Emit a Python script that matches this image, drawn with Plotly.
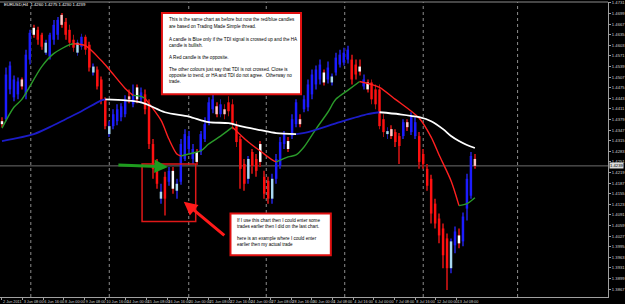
import plotly.graph_objects as go

# ---------------- data ----------------
symbol_header = "EURUSD,H4  1.4260 1.4275 1.4230 1.4239"

candle_idx = list(range(120))
candle_color = [
    "W", "B", "B", "B", "B", "P", "B", "B", "W", "R",
    "R", "C", "B", "B", "B", "P", "R", "R", "R", "C",
    "B", "R", "R", "C", "R", "R", "R", "C", "B", "B",
    "B", "B", "P", "B", "W", "B", "R", "R", "R", "R",
    "C", "R", "B", "W", "C", "B", "B", "B", "B", "W",
    "B", "B", "B", "B", "P", "B", "P", "R", "R", "R",
    "R", "R", "C", "R", "R", "W", "R", "R", "C", "B",
    "B", "B", "W", "B", "B", "P", "B", "B", "B", "B",
    "B", "W", "B", "C", "B", "B", "B", "B", "R", "R",
    "W", "B", "W", "R", "R", "R", "R", "C", "P", "R",
    "R", "B", "P", "B", "B", "R", "R", "R", "R", "R",
    "R", "R", "R", "C", "B", "W", "B", "B", "B", "P",
]
open_ = [
    1.4365, 1.4380, 1.4470, 1.4446, 1.4455, 1.4500, 1.4455, 1.4560, 1.4635, 1.4650,
    1.4635, 1.4611, 1.4569, 1.4620, 1.4635, 1.4695, 1.4674, 1.4650, 1.4620, 1.4611,
    1.4599, 1.4629, 1.4605, 1.4539, 1.4530, 1.4500, 1.4440, 1.4359, 1.4359, 1.4374,
    1.4386, 1.4395, 1.4449, 1.4425, 1.4476, 1.4440, 1.4455, 1.4425, 1.4305, 1.4245,
    1.4161, 1.4206, 1.4191, 1.4224, 1.4185, 1.4191, 1.4260, 1.4290, 1.4260, 1.4281,
    1.4281, 1.4320, 1.4371, 1.4410, 1.4419, 1.4395, 1.4410, 1.4431, 1.4425, 1.4359,
    1.4320, 1.4245, 1.4260, 1.4281, 1.4260, 1.4305, 1.4206, 1.4194, 1.4200, 1.4200,
    1.4239, 1.4305, 1.4314, 1.4329, 1.4365, 1.4380, 1.4410, 1.4416, 1.4455, 1.4485,
    1.4500, 1.4521, 1.4500, 1.4509, 1.4521, 1.4545, 1.4551, 1.4560, 1.4560, 1.4545,
    1.4539, 1.4479, 1.4491, 1.4491, 1.4470, 1.4470, 1.4380, 1.4344, 1.4350, 1.4341,
    1.4329, 1.4329, 1.4371, 1.4341, 1.4329, 1.4329, 1.4275, 1.4230, 1.4200, 1.4125,
    1.4080, 1.4050, 1.4020, 1.3930, 1.3999, 1.4005, 1.4011, 1.4110, 1.4149, 1.4260,
]
high = [
    1.4386, 1.4536, 1.4554, 1.4512, 1.4506, 1.4506, 1.4590, 1.4650, 1.4665, 1.4659,
    1.4641, 1.4620, 1.4641, 1.4680, 1.4689, 1.4701, 1.4686, 1.4665, 1.4635, 1.4620,
    1.4638, 1.4635, 1.4614, 1.4548, 1.4539, 1.4509, 1.4446, 1.4374, 1.4410, 1.4425,
    1.4428, 1.4452, 1.4470, 1.4485, 1.4485, 1.4476, 1.4470, 1.4440, 1.4320, 1.4260,
    1.4185, 1.4221, 1.4236, 1.4236, 1.4200, 1.4320, 1.4350, 1.4344, 1.4305, 1.4290,
    1.4344, 1.4386, 1.4446, 1.4455, 1.4431, 1.4440, 1.4425, 1.4449, 1.4440, 1.4374,
    1.4329, 1.4260, 1.4269, 1.4290, 1.4275, 1.4314, 1.4224, 1.4206, 1.4215, 1.4275,
    1.4326, 1.4344, 1.4326, 1.4395, 1.4440, 1.4395, 1.4452, 1.4500, 1.4530, 1.4542,
    1.4560, 1.4530, 1.4554, 1.4518, 1.4581, 1.4590, 1.4596, 1.4602, 1.4575, 1.4560,
    1.4560, 1.4515, 1.4500, 1.4500, 1.4485, 1.4485, 1.4395, 1.4356, 1.4362, 1.4350,
    1.4338, 1.4380, 1.4380, 1.4401, 1.4386, 1.4341, 1.4290, 1.4245, 1.4212, 1.4140,
    1.4095, 1.4065, 1.4035, 1.4020, 1.4056, 1.4050, 1.4098, 1.4215, 1.4281, 1.4275,
]
low = [
    1.4356, 1.4374, 1.4455, 1.4434, 1.4440, 1.4470, 1.4440, 1.4545, 1.4626, 1.4605,
    1.4590, 1.4575, 1.4560, 1.4605, 1.4620, 1.4656, 1.4620, 1.4599, 1.4584, 1.4572,
    1.4590, 1.4575, 1.4524, 1.4512, 1.4470, 1.4425, 1.4350, 1.4326, 1.4350, 1.4362,
    1.4374, 1.4386, 1.4428, 1.4416, 1.4428, 1.4428, 1.4395, 1.4290, 1.4200, 1.4170,
    1.4125, 1.4089, 1.4179, 1.4155, 1.4140, 1.4182, 1.4254, 1.4275, 1.4245, 1.4242,
    1.4272, 1.4311, 1.4362, 1.4398, 1.4386, 1.4386, 1.4380, 1.4389, 1.4350, 1.4296,
    1.4170, 1.4164, 1.4185, 1.4215, 1.4206, 1.4236, 1.4140, 1.4125, 1.4125, 1.4185,
    1.4230, 1.4290, 1.4281, 1.4320, 1.4356, 1.4356, 1.4401, 1.4404, 1.4440, 1.4470,
    1.4485, 1.4482, 1.4488, 1.4482, 1.4512, 1.4536, 1.4542, 1.4548, 1.4485, 1.4500,
    1.4512, 1.4470, 1.4461, 1.4425, 1.4410, 1.4350, 1.4326, 1.4320, 1.4320, 1.4296,
    1.4245, 1.4320, 1.4344, 1.4332, 1.4320, 1.4230, 1.4230, 1.4164, 1.4065, 1.4050,
    1.4005, 1.3930, 1.3864, 1.3915, 1.3975, 1.3990, 1.3996, 1.4074, 1.4140, 1.4230,
]
close = [
    1.4374, 1.4515, 1.4542, 1.4500, 1.4494, 1.4479, 1.4575, 1.4641, 1.4656, 1.4620,
    1.4599, 1.4581, 1.4635, 1.4665, 1.4680, 1.4665, 1.4635, 1.4611, 1.4596, 1.4581,
    1.4629, 1.4590, 1.4536, 1.4521, 1.4479, 1.4440, 1.4359, 1.4335, 1.4395, 1.4410,
    1.4419, 1.4440, 1.4440, 1.4455, 1.4440, 1.4461, 1.4410, 1.4305, 1.4230, 1.4185,
    1.4140, 1.4140, 1.4224, 1.4170, 1.4164, 1.4305, 1.4335, 1.4329, 1.4290, 1.4251,
    1.4335, 1.4365, 1.4431, 1.4440, 1.4395, 1.4425, 1.4395, 1.4404, 1.4365, 1.4311,
    1.4230, 1.4185, 1.4200, 1.4239, 1.4224, 1.4251, 1.4155, 1.4140, 1.4140, 1.4260,
    1.4311, 1.4335, 1.4290, 1.4380, 1.4431, 1.4365, 1.4440, 1.4485, 1.4515, 1.4530,
    1.4545, 1.4491, 1.4536, 1.4491, 1.4566, 1.4575, 1.4581, 1.4590, 1.4500, 1.4515,
    1.4524, 1.4500, 1.4470, 1.4440, 1.4425, 1.4359, 1.4341, 1.4335, 1.4329, 1.4311,
    1.4299, 1.4371, 1.4356, 1.4389, 1.4371, 1.4251, 1.4245, 1.4179, 1.4095, 1.4065,
    1.4029, 1.3969, 1.3930, 1.4011, 1.4041, 1.4029, 1.4086, 1.4200, 1.4269, 1.4239,
]

# slow moving average (blue rising / white falling), read at sample bars
slow_idx = [0, 8, 12, 16, 20, 25, 26, 35, 41, 47, 52, 57, 60, 65, 69, 74,
            77, 85, 92, 95, 100, 105, 108, 111, 113, 115, 117, 119]
slow_val = [1.4314, 1.4335, 1.4356, 1.4380, 1.4404, 1.4437, 1.4440, 1.4431,
            1.4401, 1.4388, 1.4371, 1.4368, 1.4359, 1.4347, 1.4338, 1.4335,
            1.4341, 1.4371, 1.4395, 1.4401, 1.4395, 1.4386, 1.4374, 1.4350,
            1.4329, 1.4314, 1.4302, 1.4293]
slow_dir = list("uuuuuu" + "ddddddddd" + "uuuu" + "dddddddd")

# fast moving average (green rising / red falling)
fast_idx = [0, 3, 5, 10, 13, 17, 18, 21, 25, 27, 31, 33, 35, 36, 40, 42, 44, 45,
            47, 50, 52, 55, 58, 62, 65, 68, 69, 72, 74, 76, 79, 82, 84, 87, 90,
            93, 95, 99, 105, 108, 110, 113, 115, 117, 119]
fast_val = [1.4353, 1.4416, 1.4440, 1.4539, 1.4578, 1.4605, 1.4608,
            1.4602, 1.4557, 1.4530, 1.4473, 1.4452,
            1.4449, 1.4443,
            1.4377, 1.4320, 1.4275, 1.4269,
            1.4275, 1.4284, 1.4305, 1.4329, 1.4356,
            1.4311, 1.4284, 1.4257, 1.4251,
            1.4266, 1.4272, 1.4296, 1.4350, 1.4401, 1.4440, 1.4467, 1.4494,
            1.4485, 1.4476, 1.4440, 1.4383, 1.4326, 1.4272, 1.4194, 1.4119,
            1.4125, 1.4143]
fast_dir = list("uuuuuu" + "ddddd" + "uu" + "dddd" + "uuuuu" + "dddd"
                + "uuuuuuuu" + "dddddddd" + "uu")

date_labels = ["2 Jun 2011", "3 Jun 08:00", "6 Jun 16:00", "8 Jun 00:00",
               "9 Jun 08:00", "10 Jun 16:00", "14 Jun 00:00", "15 Jun 08:00",
               "16 Jun 16:00", "20 Jun 00:00", "21 Jun 08:00", "22 Jun 16:00",
               "24 Jun 00:00", "27 Jun 08:00", "28 Jun 16:00", "30 Jun 00:00",
               "1 Jul 08:00", "4 Jul 16:00", "6 Jul 00:00", "7 Jul 08:00",
               "8 Jul 16:00", "12 Jul 00:00", "13 Jul 08:00"]

note_top = [
    "This is the same chart as before but now the red/blue candles",
    "are based on Trading Made Simple thread.",
    "A candle is Blue only if the TDI signal is crossed up and the HA",
    "candle is bullish.",
    "A Red candle is the opposite.",
    "The other colours just say that TDI is not crossed. Close is",
    "opposite to trend, or HA and TDI do not agree.  Otherway no",
    "trade.",
]
note_bottom = [
    "If I use this chart then I could enter some",
    "trades earlier then I did on the last chart.",
    "here is an example where I could enter",
    "earlier then my actual trade",
]

# ---------------- layout geometry ----------------
W, H = 625, 304
ML, MR, MT, MB = 0, 13, 2, 5
PW, PH = W - ML - MR, H - MT - MB
X0, X1 = -0.5, 152.5
Y0, Y1 = 1.3843, 1.4734


def px_x(px):
    return (px - ML) / PW


def px_y(py):
    return 1 - (py - MT) / PH


body_cmap = {"B": "#1c1cff", "R": "#ff1010", "C": "#a8d8f0", "W": "#ffffff", "P": "#ffc6c6"}
wick_cmap = {"B": "#1a1aa8", "R": "#a81010", "C": "#1a1aa8", "W": "#a81010", "P": "#a81010"}

fig = go.Figure()

# wicks
fig.add_trace(go.Bar(
    x=candle_idx, y=[h - l for h, l in zip(high, low)], base=low, width=0.22,
    marker=dict(color=[wick_cmap[c] for c in candle_color], line_width=0),
    hoverinfo="skip", showlegend=False))
# bodies
fig.add_trace(go.Bar(
    x=candle_idx, y=[max(abs(c - o), 0.00025) for o, c in zip(open_, close)],
    base=[min(o, c) for o, c in zip(open_, close)], width=0.62,
    marker=dict(color=[body_cmap[c] for c in candle_color], line_width=0),
    hoverinfo="skip", showlegend=False))


def add_segments(xs, ys, dirs, cmap, width):
    s = 0
    for k in range(1, len(dirs) + 1):
        if k == len(dirs) or dirs[k] != dirs[s]:
            fig.add_trace(go.Scatter(
                x=xs[s:k + 1], y=ys[s:k + 1], mode="lines",
                line=dict(color=cmap[dirs[s]], width=width, shape="spline", smoothing=0.8),
                hoverinfo="skip", showlegend=False))
            s = k


add_segments(fast_idx, fast_val, fast_dir, {"u": "#2a9a2a", "d": "#ff2020"}, 1.4)
add_segments(slow_idx, slow_val, slow_dir, {"u": "#1c1cc8", "d": "#ffffff"}, 1.8)

shapes = []
# weekly separators (dotted)
for gx in [7.25, 27, 47, 66.5, 86.25, 106, 129.75]:
    shapes.append(dict(type="line", xref="x", yref="paper", x0=gx, x1=gx, y0=0, y1=1,
                       line=dict(color="#8c8c8c", width=1, dash="dot"), layer="below"))
# current price line
shapes.append(dict(type="line", xref="paper", yref="y", x0=0, x1=1, y0=close[-1], y1=close[-1],
                   line=dict(color="#6e6e6e", width=1), layer="below"))
# top border
shapes.append(dict(type="line", xref="paper", yref="paper", x0=0, x1=1, y0=1, y1=1,
                   line=dict(color="#8c8c8c", width=1)))
# highlight rectangle
shapes.append(dict(type="rect", xref="paper", yref="paper",
                   x0=px_x(143), x1=px_x(197), y0=px_y(223), y1=px_y(165),
                   line=dict(color="#e01818", width=1.5), fillcolor="rgba(0,0,0,0)"))
# note boxes
shapes.append(dict(type="rect", xref="paper", yref="paper",
                   x0=px_x(163), x1=px_x(303), y0=px_y(95), y1=px_y(13),
                   line=dict(color="#e01010", width=2), fillcolor="#ffffff"))
shapes.append(dict(type="rect", xref="paper", yref="paper",
                   x0=px_x(232), x1=px_x(333), y0=px_y(257), y1=px_y(215),
                   line=dict(color="#e01010", width=2), fillcolor="#ffffff"))

annotations = []
note_font = dict(family="Liberation Sans, Arial, sans-serif", size=4.6, color="#000000")
for txt, py in zip(note_top, [20, 26.3, 39.3, 45.7, 58.3, 70, 76.2, 82.4]):
    annotations.append(dict(xref="paper", yref="paper", x=px_x(168), y=px_y(py), text=txt,
                            showarrow=False, xanchor="left", yanchor="middle", font=note_font))
for txt, py in zip(note_bottom, [222.3, 228.5, 240.2, 246.5]):
    annotations.append(dict(xref="paper", yref="paper", x=px_x(237), y=px_y(py), text=txt,
                            showarrow=False, xanchor="left", yanchor="middle", font=note_font))
# header
annotations.append(dict(xref="paper", yref="paper", x=px_x(2), y=px_y(4.5), text=symbol_header,
                        showarrow=False, xanchor="left", yanchor="middle",
                        font=dict(family="Liberation Sans, Arial", size=4.2, color="#ffffff")))
# green arrow
annotations.append(dict(xref="paper", yref="paper", x=px_x(169), y=px_y(168), text="",
                        showarrow=True, ax=-51, ay=-2, arrowhead=2, arrowsize=0.9,
                        arrowwidth=3, arrowcolor="#1e9c1e"))
# red arrow
annotations.append(dict(xref="paper", yref="paper", x=px_x(185), y=px_y(203), text="",
                        showarrow=True, ax=42, ay=35, arrowhead=2, arrowsize=0.9,
                        arrowwidth=3, arrowcolor="#ff1a1a"))
# last price tag on the price scale
annotations.append(dict(xref="paper", yref="y", x=1.0, y=close[-1], text=f"{close[-1]:.4f}",
                        showarrow=False, xanchor="left", yanchor="middle", xshift=1,
                        bgcolor="#d8d8d8", borderpad=0,
                        font=dict(family="Liberation Sans, Arial", size=4.2, color="#000000")))

fig.update_layout(
    width=W, height=H,
    margin=dict(l=ML, r=MR, t=MT, b=MB, pad=0),
    paper_bgcolor="#000000", plot_bgcolor="#000000",
    barmode="overlay", showlegend=False,
    shapes=shapes, annotations=annotations,
    xaxis=dict(range=[X0, X1], showgrid=False, zeroline=False,
               tickvals=[5.2 * k for k in range(len(date_labels))], ticktext=date_labels,
               tickangle=0, ticklabelposition="outside right", ticks="outside", ticklen=2,
               tickcolor="#a0a0a0", showline=True, linecolor="#a0a0a0", linewidth=1,
               tickfont=dict(family="Liberation Sans, Arial", size=3.8, color="#d0d0d0")),
    yaxis=dict(range=[Y0, Y1], side="right", showgrid=False, zeroline=False,
               tick0=1.4731, dtick=0.0032, tickformat=".4f", ticks="outside", ticklen=2,
               tickcolor="#a0a0a0", showline=True, linecolor="#a0a0a0", linewidth=1,
               tickfont=dict(family="Liberation Sans, Arial", size=4.2, color="#d0d0d0")),
)

fig.write_html("out.html")
